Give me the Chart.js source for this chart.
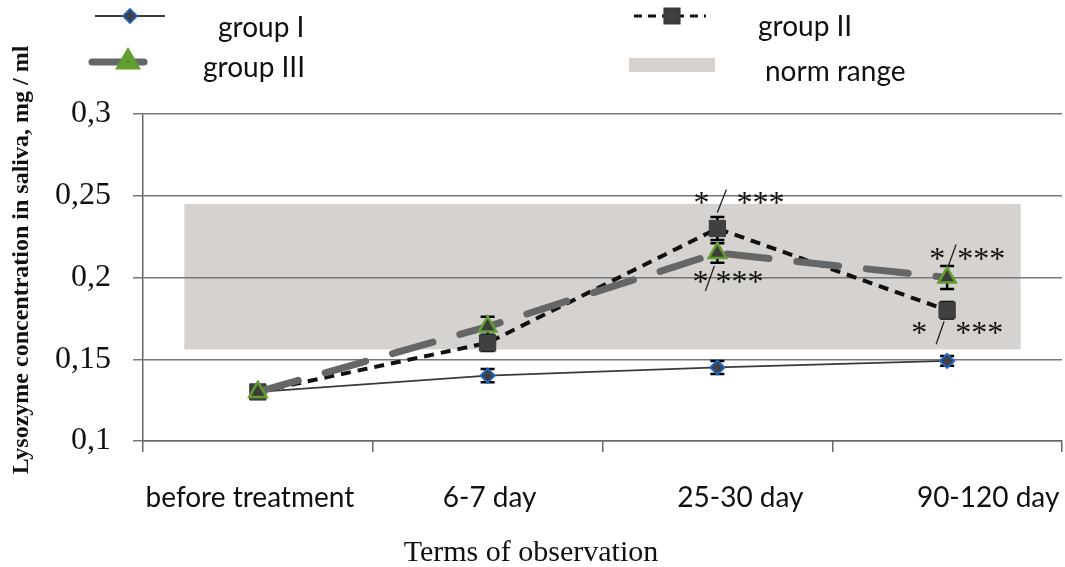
<!DOCTYPE html>
<html lang="en">
<head>
<meta charset="UTF-8">
<title>Lysozyme concentration in saliva</title>
<style>
  body { margin: 0; background: #fff; overflow: hidden; }
  #wrap { width: 1065px; height: 567px; }
  canvas { display: block; }
</style>
</head>
<body>
<div id="wrap"><canvas id="lysoChart" width="1065" height="567"></canvas></div>
<script src="https://cdn.jsdelivr.net/npm/chart.js"></script>
<script>
// data
const categories = ['before treatment', '6-7 day', '25-30 day', '90-120 day'];
const groupI = [0.13, 0.14, 0.145, 0.149];
const groupII = [0.13, 0.16, 0.23, 0.18];
const groupIII = [0.13, 0.17, 0.215, 0.2];
const errI = [0.003, 0.004, 0.004, 0.003];
const errII = [0.004, 0.005, 0.007, 0.005];
const errIII = [0.004, 0.006, 0.006, 0.007];
const normRange = [0.156, 0.245];
const seriesNames = ['group I', 'group II', 'group III', 'norm range'];
const sigLabels = [
    { series: 1, point: 2, left: '*', right: '***' },
    { series: 2, point: 2, left: '*', right: '***' },
    { series: 2, point: 3, left: '*', right: '***' },
    { series: 1, point: 3, left: '*', right: '***' }
];
const axisTitles = { x: 'Terms of observation', y: 'Lysozyme concentration in saliva, mg / ml' };

const serif = "'Liberation Serif', 'Times New Roman', serif";
const sans = "Lato, 'Open Sans', sans-serif";
const normColor = '#d5d2cf';

const styles = [
    { line: '#3a3a3a', width: 1.8, dash: [], cap: 'butt', point: 'rectRot', r: 7, fill: '#404040', border: '#1d63c8', bw: 2 },
    { line: '#111', width: 4, dash: [10, 7], cap: 'butt', point: 'rect', r: 11.5, fill: '#404040', border: '#3a3a3a', bw: 1 },
    { line: '#666', width: 7, dash: [42, 28], cap: 'round', point: 'triangle', r: 10, fill: '#3c3c3c', border: '#5f9e2f', bw: 2.5 }
];
const errors = [errI, errII, errIII];

// where the star labels sit, relative to their point (px)
const sigLayout = [
    { l: [-16, -32], r: [43, -32], a: [9, -39], b: [0, -16] },
    { l: [-17, 23], r: [22, 23], a: [-12, 38], b: [-3, 13] },
    { l: [-10, -25], r: [34, -25], a: [1, -11], b: [9, -33] },
    { l: [-28, 16], r: [32, 16], a: [-3, 11], b: [-11, 34] }
];
// category labels in the original are not quite centred under the points
const labelShift = [-8, 2, 23, 41];

function makeDataset(i, values) {
    const s = styles[i];
    return {
        label: seriesNames[i],
        data: values,
        borderColor: s.line,
        borderWidth: s.width,
        borderDash: s.dash,
        borderCapStyle: s.cap,
        pointStyle: s.point,
        pointRadius: s.r,
        pointBackgroundColor: s.fill,
        pointBorderColor: s.border,
        pointBorderWidth: s.bw,
        tension: 0,
        fill: false,
        order: 2 - i
    };
}

const decor = {
    id: 'decor',
    beforeDraw(chart) {
        // norm range band, under the grid lines
        const { ctx, scales: { x, y } } = chart;
        ctx.save();
        ctx.fillStyle = normColor;
        const x0 = x.getPixelForValue(-0.32), x1 = x.getPixelForValue(3.32);
        const y0 = y.getPixelForValue(normRange[1]), y1 = y.getPixelForValue(normRange[0]);
        ctx.fillRect(x0, y0, x1 - x0, y1 - y0);
        ctx.restore();
    },
    beforeDatasetsDraw(chart) {
        const { ctx, scales: { x, y } } = chart;
        ctx.save();
        // error bars
        ctx.strokeStyle = '#000';
        ctx.lineWidth = 2.5;
        chart.data.datasets.forEach((ds, i) => {
            ds.data.forEach((v, j) => {
                const px = x.getPixelForValue(j);
                const top = y.getPixelForValue(v + errors[i][j]);
                const bot = y.getPixelForValue(v - errors[i][j]);
                ctx.beginPath();
                ctx.moveTo(px, top); ctx.lineTo(px, bot);
                ctx.moveTo(px - 7, top); ctx.lineTo(px + 7, top);
                ctx.moveTo(px - 7, bot); ctx.lineTo(px + 7, bot);
                ctx.stroke();
            });
        });
        ctx.restore();
    },
    afterDatasetsDraw(chart) {
        const { ctx, scales: { x, y } } = chart;
        ctx.save();
        // significance marks
        ctx.fillStyle = '#111';
        ctx.strokeStyle = '#222';
        ctx.lineWidth = 1.3;
        ctx.font = '32px ' + serif;
        ctx.textAlign = 'center';
        ctx.textBaseline = 'middle';
        sigLabels.forEach((m, k) => {
            const px = x.getPixelForValue(m.point);
            const py = y.getPixelForValue(chart.data.datasets[m.series].data[m.point]);
            const L = sigLayout[k];
            ctx.fillText(m.left, px + L.l[0], py + L.l[1] + 8);
            ctx.fillText(m.right, px + L.r[0], py + L.r[1] + 8);
            ctx.beginPath();
            ctx.moveTo(px + L.a[0], py + L.a[1]);
            ctx.lineTo(px + L.b[0], py + L.b[1]);
            ctx.stroke();
        });

        // category labels
        ctx.font = '28px ' + sans;
        categories.forEach((c, i) => {
            ctx.fillText(c, x.getPixelForValue(i) + labelShift[i], 498);
        });

        // legend
        const legendPos = [
            { x1: 95, x2: 165, y: 16, px: 130, tx: 218, ty: 28, r: 7 },
            { x1: 634, x2: 706, y: 16, px: 672, tx: 758, ty: 27, r: 10 },
            { x1: 92, x2: 144, y: 62, px: 128, tx: 203, ty: 68, r: 8 }
        ];
        ctx.textAlign = 'left';
        styles.forEach((s, i) => {
            const p = legendPos[i];
            ctx.save();
            ctx.strokeStyle = s.line;
            ctx.lineWidth = i === 1 ? 3 : s.width;
            ctx.lineCap = s.cap;
            ctx.setLineDash(i === 1 ? [8, 6] : []);
            ctx.beginPath();
            ctx.moveTo(p.x1, p.y); ctx.lineTo(p.x2, p.y);
            ctx.stroke();
            ctx.setLineDash([]);
            ctx.fillStyle = s.fill;
            ctx.strokeStyle = s.border;
            Chart.helpers.drawPoint(ctx, { pointStyle: s.point, radius: p.r, rotation: 0, borderWidth: s.bw }, p.px, p.y);
            ctx.restore();
            ctx.fillStyle = '#111';
            ctx.fillText(seriesNames[i], p.tx, p.ty);
        });
        ctx.fillStyle = normColor;
        ctx.fillRect(629, 58, 86, 14);
        ctx.fillStyle = '#111';
        ctx.fillText(seriesNames[3], 765, 72);

        // axis titles
        ctx.textAlign = 'center';
        ctx.font = '30px ' + serif;
        ctx.fillText(axisTitles.x, 531, 553);
        ctx.translate(22, 260);
        ctx.rotate(-Math.PI / 2);
        ctx.font = 'bold 24px ' + serif;
        ctx.fillText(axisTitles.y, 0, 0);
        ctx.restore();
    }
};

const ctx = document.getElementById('lysoChart').getContext('2d');
new Chart(ctx, {
    type: 'line',
    data: {
        labels: categories,
        datasets: [makeDataset(0, groupI), makeDataset(1, groupII), makeDataset(2, groupIII)]
    },
    plugins: [decor],
    options: {
        responsive: false,
        animation: false,
        layout: { autoPadding: false, padding: { top: 114, right: 3, left: 0, bottom: 0 } },
        plugins: { legend: { display: false }, tooltip: { enabled: false } },
        scales: {
            x: {
                type: 'category',
                offset: true,
                afterFit: (s) => { s.height = 126; s.paddingLeft = 0; s.paddingRight = 0; },
                grid: { drawOnChartArea: false, drawTicks: true, tickLength: 11, color: '#666', lineWidth: 1.5, offset: true },
                border: { color: '#666', width: 1.5 },
                ticks: { display: false }
            },
            y: {
                min: 0.1,
                max: 0.3,
                afterFit: (s) => { s.width = 143; s.paddingTop = 0; s.paddingBottom = 0; },
                grid: { color: '#777', lineWidth: 1.5, tickLength: 10 },
                border: { color: '#666', width: 1.5 },
                ticks: {
                    stepSize: 0.05,
                    font: { family: serif, size: 32 },
                    color: '#111',
                    padding: 22,
                    callback: (v) => String(+v.toFixed(2)).replace('.', ',')
                }
            }
        }
    }
});
</script>
</body>
</html>
